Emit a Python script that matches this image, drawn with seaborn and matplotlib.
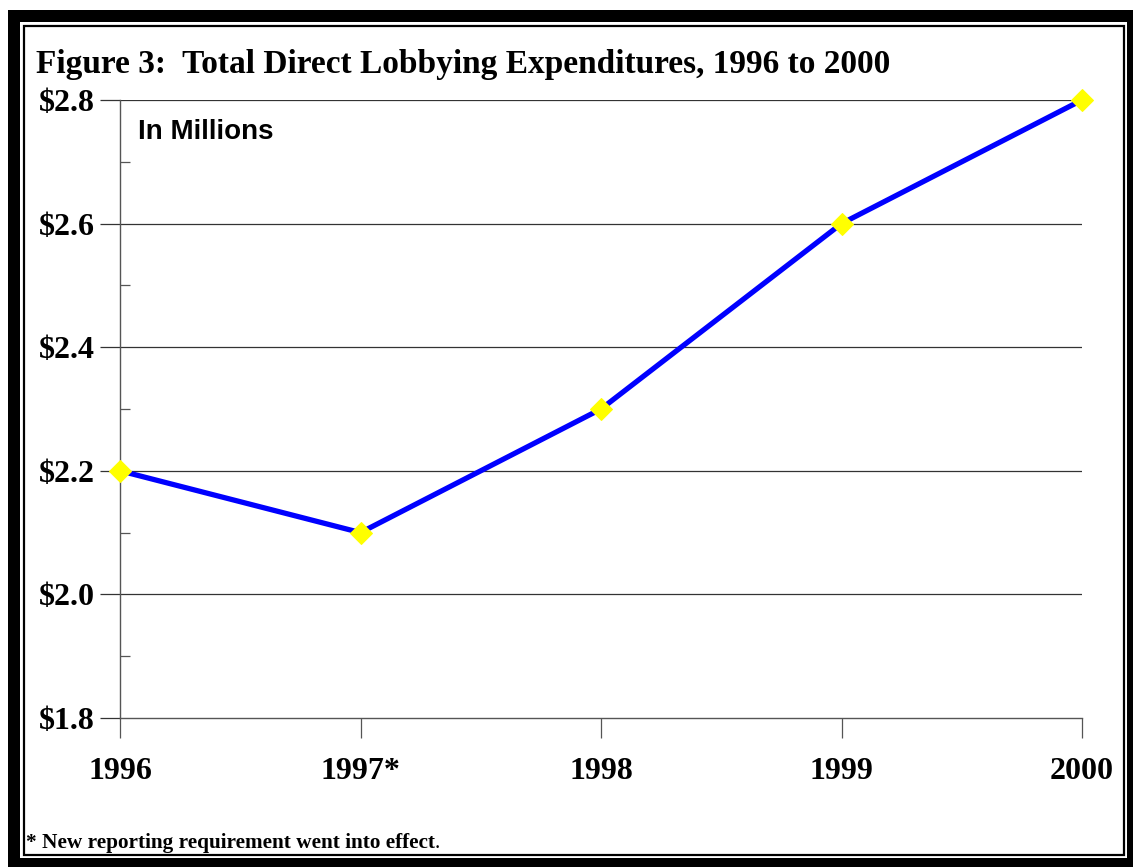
import matplotlib
matplotlib.use("Agg")
import matplotlib.pyplot as plt
import seaborn as sns
import pandas as pd
from matplotlib.patches import Rectangle
from matplotlib.ticker import FixedLocator

years = ["1996", "1997*", "1998", "1999", "2000"]
values = [2.2, 2.1, 2.3, 2.6, 2.8]
y_ticks = [1.8, 2.0, 2.2, 2.4, 2.6, 2.8]
y_labels = ["$1.8", "$2.0", "$2.2", "$2.4", "$2.6", "$2.8"]

df = pd.DataFrame({"pos": range(len(years)), "value": values})

sns.set_theme(style="white")
plt.rcParams["font.family"] = ["Liberation Serif", "DejaVu Serif"]

W, H = 1133, 867
fig = plt.figure(figsize=(W / 100, H / 100), dpi=100)

def fr(x0, y0, x1, y1):
    # pixel box (top-left origin) -> figure fraction rectangle
    return (x0 / W, 1 - y1 / H, (x1 - x0) / W, (y1 - y0) / H)

# frame: thick black outer, white gap, thin inner line
r = fr(8, 10, 1133, 867)
fig.patches.append(Rectangle(r[:2], r[2], r[3], transform=fig.transFigure, facecolor="black", edgecolor="none", zorder=-3))
r = fr(20, 22, 1127, 858)
fig.patches.append(Rectangle(r[:2], r[2], r[3], transform=fig.transFigure, facecolor="white", edgecolor="none", zorder=-2))
r = fr(23.5, 25.5, 1123.5, 854.5)
fig.patches.append(Rectangle(r[:2], r[2], r[3], transform=fig.transFigure, facecolor="white", edgecolor="black", linewidth=1.6, zorder=-1))

ax = fig.add_axes([120 / W, 1 - 718 / H, (1082 - 120) / W, (718 - 100) / H])
ax.patch.set_alpha(0)

sns.lineplot(data=df, x="pos", y="value", ax=ax, color="#0000FF", linewidth=3.8,
             marker="D", markersize=11, markerfacecolor="#FFFF00", markeredgecolor="#FFFF00",
             clip_on=False, zorder=5)

ax.set_xlim(0, len(years) - 1)
ax.set_ylim(1.8, 2.8)
ax.set_xlabel("")
ax.set_ylabel("")

for sp in ["top", "right"]:
    ax.spines[sp].set_visible(False)
for sp in ["left", "bottom"]:
    ax.spines[sp].set_color("#555555")
    ax.spines[sp].set_linewidth(1.0)

# horizontal gridlines
for v in y_ticks[1:]:
    ax.axhline(v, color="#333333", linewidth=0.9, zorder=1)

ax.yaxis.set_major_locator(FixedLocator(y_ticks))
ax.set_yticklabels(y_labels)
ax.yaxis.set_minor_locator(FixedLocator([1.9, 2.1, 2.3, 2.5, 2.7]))
ax.set_xticks(range(len(years)))
ax.set_xticklabels(years)

ax.tick_params(axis="y", which="major", direction="out", length=14.4, width=0.9, color="#333333",
               left=True, pad=4, labelsize=23)
ax.tick_params(axis="y", which="minor", direction="in", length=7.2, width=0.9, color="#555555", left=True)
ax.tick_params(axis="x", which="major", direction="out", length=14.4, width=0.9, color="#555555",
               bottom=True, pad=14, labelsize=23)
for lab in ax.get_xticklabels() + ax.get_yticklabels():
    lab.set_fontweight("bold")
    lab.set_color("black")

fig.text(36 / W, 1 - 73 / H, "Figure 3:  Total Direct Lobbying Expenditures, 1996 to 2000",
         fontsize=24, fontweight="bold", color="black", ha="left", va="baseline")
fig.text(138 / W, 1 - 139 / H, "In Millions", family=["Liberation Sans", "DejaVu Sans"],
         fontsize=20, fontweight="bold", color="black", ha="left", va="baseline")
t = fig.text(26 / W, 1 - 848 / H, "* New reporting requirement went into effect",
             fontsize=15.3, fontweight="bold", color="black", ha="left", va="baseline")
fig.canvas.draw()
bb = t.get_window_extent()
fig.text(bb.x1 / W, 1 - 848 / H, ".", fontsize=15.3, color="black", ha="left", va="baseline")

fig.savefig("out.png", dpi=100)
